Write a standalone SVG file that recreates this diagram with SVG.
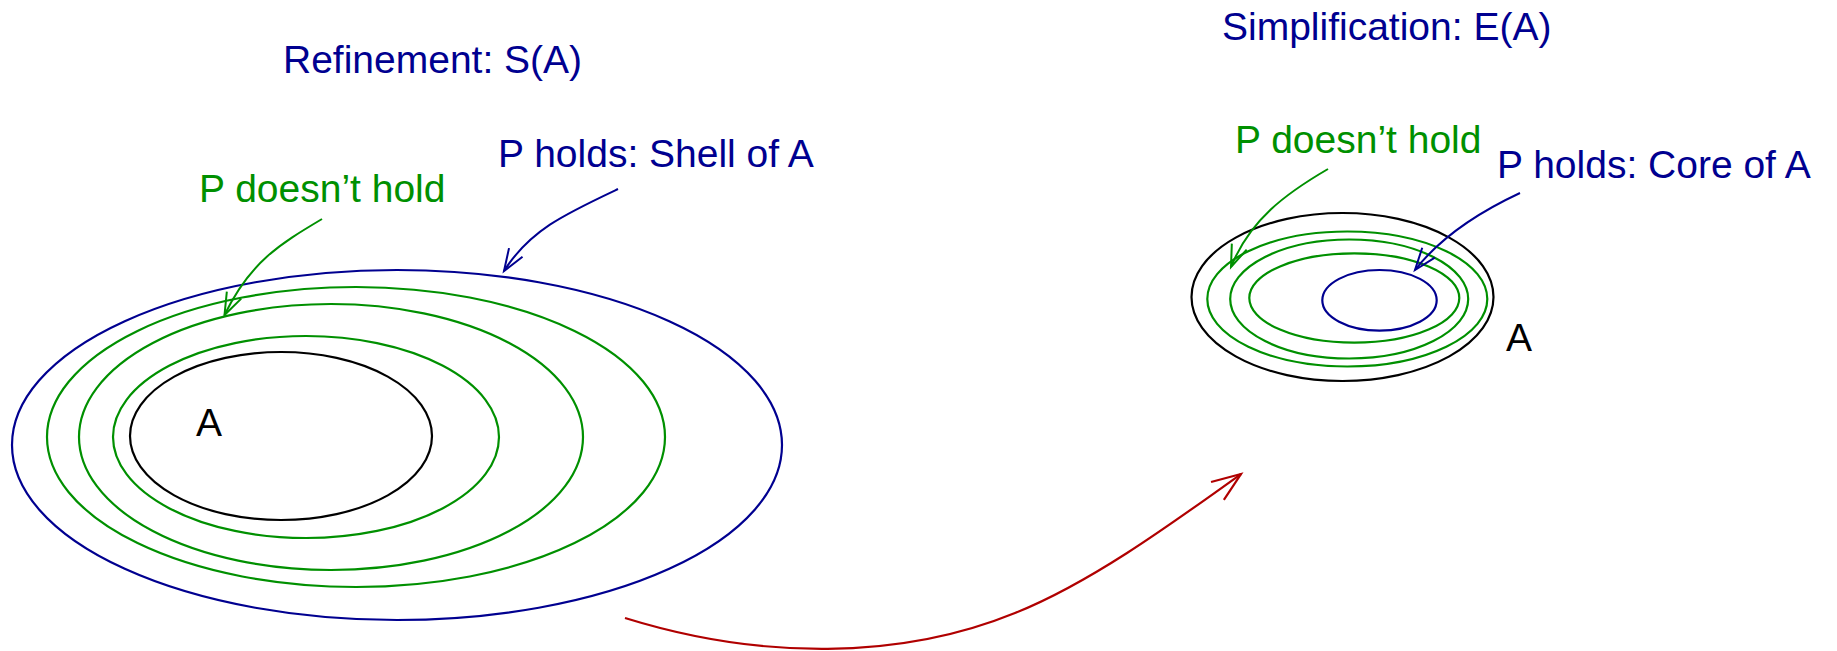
<svg xmlns="http://www.w3.org/2000/svg" width="1837" height="651" viewBox="0 0 1837 651">
  <style>
    text { font-family: "Liberation Sans", Arial, sans-serif; font-size: 39px; }
    .blue { fill: #000090; }
    .green { fill: #009000; }
    .black { fill: #000000; }
    .eb { fill: none; stroke: #000090; stroke-width: 2.2; }
    .eg { fill: none; stroke: #009000; stroke-width: 2.2; }
    .ek { fill: none; stroke: #000000; stroke-width: 2.2; }
    .cb { fill: none; stroke: #000090; stroke-width: 2; }
    .cg { fill: none; stroke: #009000; stroke-width: 2; }
    .cr { fill: none; stroke: #b00000; stroke-width: 2.2; }
  </style>
  <defs>
    <marker id="ah-green" markerUnits="userSpaceOnUse" viewBox="-24 -10 28 20" refX="0" refY="0" markerWidth="28" markerHeight="20" orient="auto" overflow="visible">
      <polyline points="-22,-8 0,0 -22,8" fill="none" stroke="#009000" stroke-width="2"/>
    </marker>
    <marker id="ah-blue" markerUnits="userSpaceOnUse" viewBox="-24 -10 28 20" refX="0" refY="0" markerWidth="28" markerHeight="20" orient="auto" overflow="visible">
      <polyline points="-22,-8 0,0 -22,8" fill="none" stroke="#000090" stroke-width="2"/>
    </marker>
    <marker id="ah-red" markerUnits="userSpaceOnUse" viewBox="-24 -10 28 20" refX="0" refY="0" markerWidth="28" markerHeight="20" orient="auto" overflow="visible">
      <polyline points="-29,-11 0,0 -29,11" fill="none" stroke="#b00000" stroke-width="2.2"/>
    </marker>
  </defs>

  <g id="refinement">
    <text class="blue" x="283" y="73">Refinement: S(A)</text>
    <ellipse id="shell" class="eb" cx="397" cy="445" rx="385" ry="175"/>
    <ellipse class="eg" cx="356" cy="437" rx="309" ry="150"/>
    <ellipse class="eg" cx="331" cy="437" rx="252" ry="133"/>
    <ellipse class="eg" cx="306" cy="437" rx="193" ry="101"/>
    <ellipse id="setA-left" class="ek" cx="281" cy="436" rx="151" ry="84"/>
    <text class="black" x="196" y="436">A</text>
    <text class="green" x="199" y="202">P doesn’t hold</text>
    <text class="blue" x="498" y="167">P holds: Shell of A</text>
  </g>

  <g id="simplification">
    <text class="blue" x="1222" y="40">Simplification: E(A)</text>
    <ellipse id="setA-right" class="ek" cx="1342.5" cy="297" rx="151" ry="84"/>
    <ellipse class="eg" cx="1347.3" cy="299" rx="140" ry="67.5"/>
    <ellipse class="eg" cx="1349.2" cy="299" rx="119" ry="59.5"/>
    <ellipse class="eg" cx="1354.3" cy="298" rx="105" ry="44.7"/>
    <ellipse id="core" class="eb" cx="1379.5" cy="300.3" rx="57.2" ry="30.3"/>
    <text class="black" x="1506" y="351">A</text>
    <text class="green" x="1235" y="153">P doesn’t hold</text>
    <text class="blue" x="1497" y="178">P holds: Core of A</text>
  </g>

  <g id="connectors">
    <path class="cg" d="M322,219 C280,244 250,262 224.5,315" marker-end="url(#ah-green)"/>
    <path class="cb" d="M618,189 C565,214 530,230 504,271" marker-end="url(#ah-blue)"/>
    <path class="cg" d="M1328,169 C1285,194 1250,220 1231,267" marker-end="url(#ah-green)"/>
    <path class="cb" d="M1520,193 C1475,214 1440,238 1415,270" marker-end="url(#ah-blue)"/>
    <path class="cr" d="M625,618 C760,660 900,660 1015,613 C1090,583 1170,525 1241,474" marker-end="url(#ah-red)"/>
  </g>
</svg>
